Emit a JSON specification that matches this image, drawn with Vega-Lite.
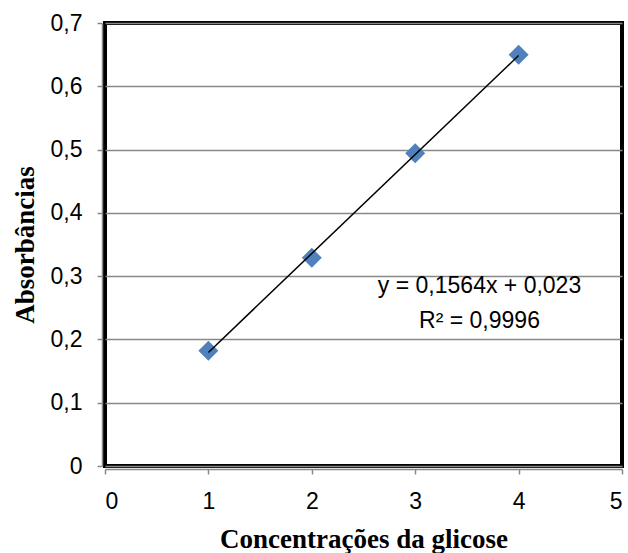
{
  "$schema": "https://vega.github.io/schema/vega-lite/v6.json",
  "width": 517,
  "height": 443,
  "autosize": {"type": "none"},
  "padding": {"left": 105, "top": 23, "right": 6, "bottom": 87},
  "background": "white",
  "view": {"stroke": "black", "strokeWidth": 4},
  "config": {
    "view": {"stroke": "black", "strokeWidth": 4},
    "axis": {
      "domainColor": "#888888",
      "domainWidth": 1.5,
      "tickColor": "#888888",
      "tickWidth": 1.5,
      "tickSize": 5,
      "labelFont": "Liberation Sans",
      "labelFontSize": 23,
      "labelColor": "black",
      "titleFont": "Liberation Serif",
      "titleFontSize": 27,
      "titleFontWeight": "bold",
      "titleColor": "black",
      "gridColor": "#888888",
      "gridWidth": 1.5
    }
  },
  "encoding": {
    "x": {
      "field": "x",
      "type": "quantitative",
      "scale": {"domain": [0, 5], "nice": false, "zero": false},
      "axis": {
        "title": "Concentrações da glicose",
        "values": [0, 1, 2, 3, 4, 5],
        "format": "d",
        "grid": false,
        "offset": 3,
        "labelPadding": 16,
        "titleX": 258.5,
        "titleY": 78,
        "titleAlign": "center",
        "titleBaseline": "alphabetic"
      }
    },
    "y": {
      "field": "y",
      "type": "quantitative",
      "scale": {"domain": [0, 0.7], "nice": false, "zero": false},
      "axis": {
        "title": "Absorbâncias",
        "values": [0, 0.1, 0.2, 0.3, 0.4, 0.5, 0.6, 0.7],
        "format": ".1~f",
        "labelExpr": "replace(datum.label, '.', ',')",
        "grid": true,
        "offset": 3,
        "labelPadding": 15,
        "titleX": -69,
        "titleY": 221.5,
        "titleAlign": "center",
        "titleBaseline": "alphabetic"
      }
    }
  },
  "layer": [
    {
      "data": {"values": [
        {"x": 1, "y": 0.182},
        {"x": 2, "y": 0.329},
        {"x": 3, "y": 0.494},
        {"x": 4, "y": 0.650}
      ]},
      "mark": {"type": "point", "shape": "diamond", "filled": true, "size": 400, "color": "#4F81BD", "opacity": 1}
    },
    {
      "data": {"values": [
        {"x": 1, "y": 0.1794},
        {"x": 4, "y": 0.6486}
      ]},
      "mark": {"type": "line", "color": "black", "strokeWidth": 1.5}
    },
    {
      "data": {"values": [
        {"x": 3.622, "y": 0.273, "label": "y = 0,1564x + 0,023"},
        {"x": 3.622, "y": 0.2175, "label": "R² = 0,9996"}
      ]},
      "mark": {"type": "text", "font": "Liberation Sans", "fontSize": 23, "align": "center", "baseline": "alphabetic", "color": "black"},
      "encoding": {"text": {"field": "label"}}
    }
  ]
}
